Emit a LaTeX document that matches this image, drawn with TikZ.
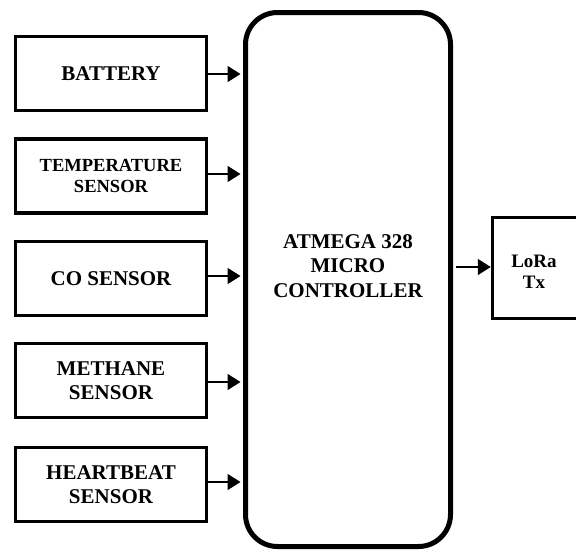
\documentclass[tikz,border=0pt]{standalone}
\usepackage{fontspec}
\setmainfont{Liberation Serif}
\usetikzlibrary{arrows.meta}
\begin{document}
\begin{tikzpicture}[x=1pt,y=-1pt,
  sbox/.style={draw, line width=3.5pt, minimum width=191pt, minimum height=74pt, inner sep=0pt, align=center, font=\fontsize{21}{24}\selectfont\bfseries},
  conn/.style={line width=1.5pt, -{Triangle[length=13pt,width=16pt]}}]
\useasboundingbox (0,0) rectangle (576,550);
\node[sbox] (bat) at (111,73.5) {BATTERY};
\node[sbox, font=\fontsize{18.5}{21}\selectfont\bfseries] (temp) at (111,176) {TEMPERATURE\\SENSOR};
\node[sbox] (co) at (111,278.5) {CO SENSOR};
\node[sbox] (meth) at (111,380.5) {METHANE\\SENSOR};
\node[sbox] (heart) at (111,484.5) {HEARTBEAT\\SENSOR};
\node[draw, line width=5pt, rounded corners=32pt, minimum width=205pt, minimum height=534pt, inner sep=0pt] (mc) at (348,279.5) {};
\node[align=center, font=\fontsize{21}{24.5}\selectfont\bfseries] (mct) at (348,266) {ATMEGA 328\\MICRO\\CONTROLLER};
\node[draw, line width=3.5pt, minimum width=100pt, minimum height=101pt, inner sep=0pt, align=center, font=\fontsize{19}{21}\selectfont\bfseries] (lora) at (542.5,268) {};
\node[font=\fontsize{19}{21}\selectfont\bfseries, align=center] (lorat) at (534,272) {LoRa\\Tx};
\foreach \n/\y in {bat/74, temp/174, co/276, meth/382, heart/482}{
  \coordinate (e\n) at (mc.west |- 0,\y);
  \draw[conn] (\n.east |- 0,\y) -- ([xshift=-2.5pt]e\n);
}
\coordinate (lo) at (mc.east |- 0,267);
\draw[conn] ([xshift=2.5pt]lo) -- (lora.west |- 0,267);
\end{tikzpicture}
\end{document}
